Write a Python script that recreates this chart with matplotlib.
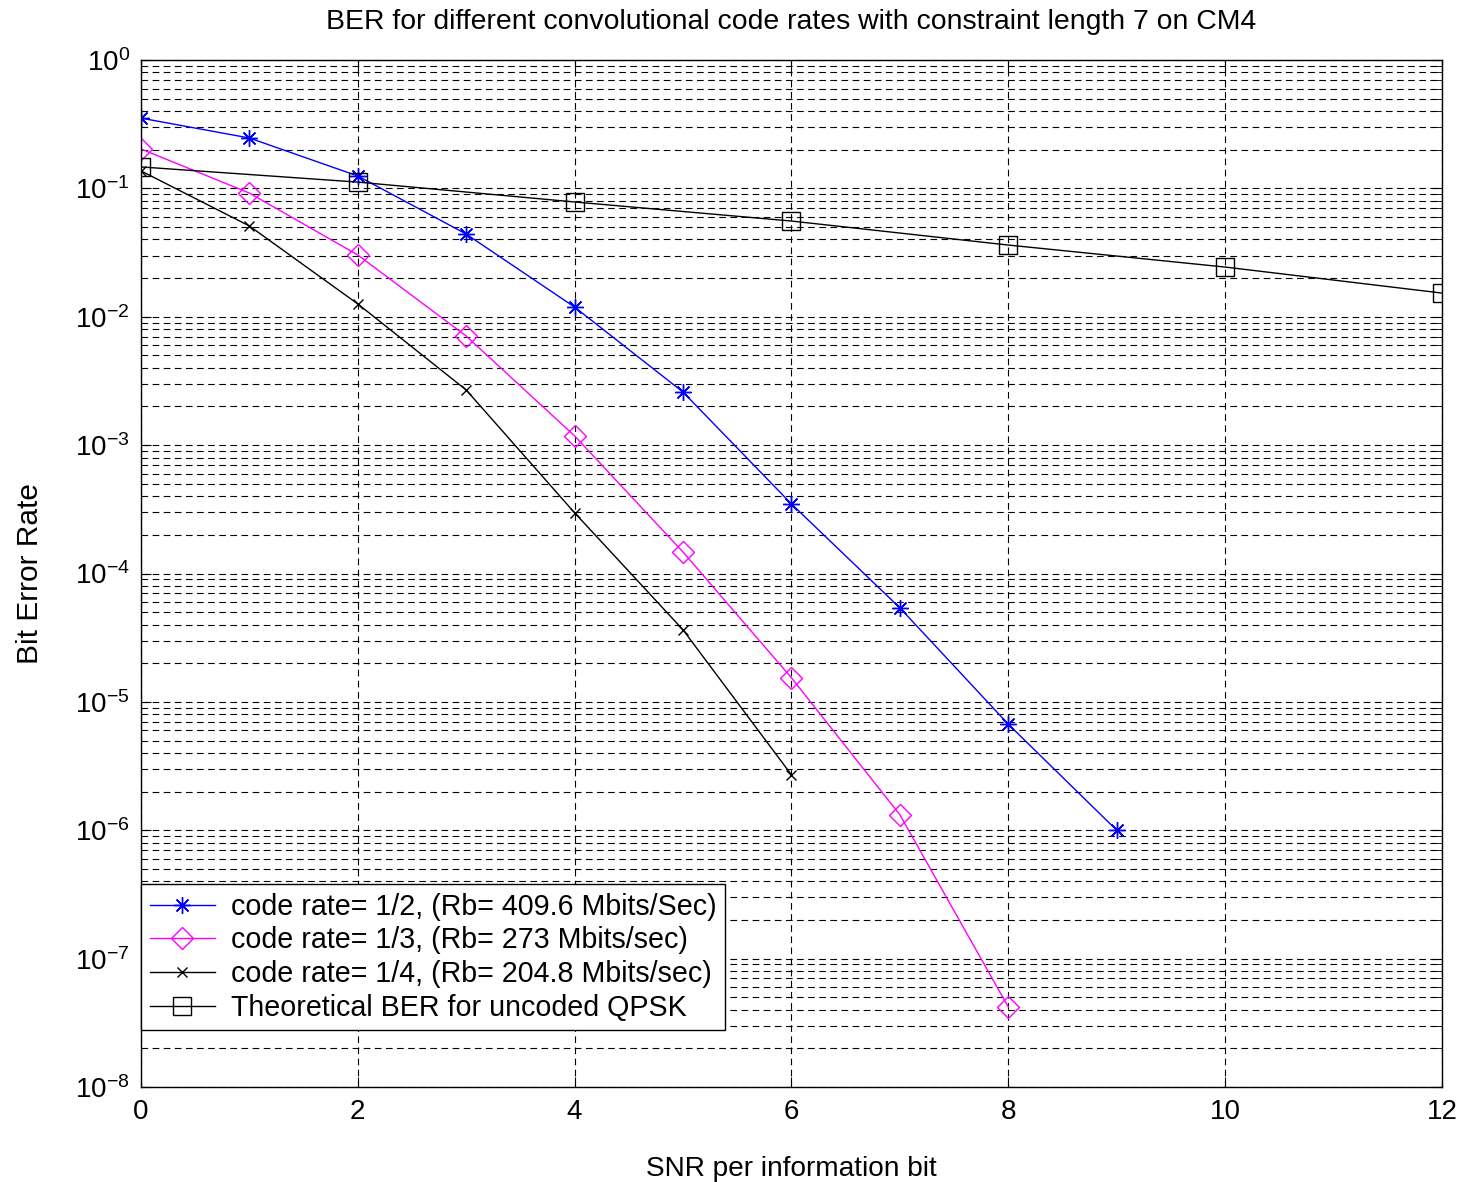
import matplotlib
matplotlib.use("Agg")
import matplotlib.pyplot as plt
from matplotlib.ticker import LogLocator, FixedLocator

plt.rcParams['font.family'] = ['Liberation Sans', 'DejaVu Sans']
plt.rcParams['mathtext.fontset'] = 'custom'
plt.rcParams['mathtext.rm'] = 'Liberation Sans'
plt.rcParams['mathtext.it'] = 'Liberation Sans'

snr_half = [0, 1, 2, 3, 4, 5, 6, 7, 8, 9]
ber_half = [0.353, 0.247, 0.125, 0.0441, 0.0119, 0.00259, 3.48e-4, 5.4e-5, 6.7e-6, 1.0e-6]

snr_third = [0, 1, 2, 3, 4, 5, 6, 7, 8]
ber_third = [0.203, 0.092, 0.0303, 0.00708, 0.00118, 1.47e-4, 1.54e-5, 1.32e-6, 4.2e-8]

snr_quarter = [0, 1, 2, 3, 4, 5, 6]
ber_quarter = [0.137, 0.051, 0.0126, 0.00269, 2.97e-4, 3.64e-5, 2.7e-6]

snr_theory = [0, 2, 4, 6, 8, 10, 12]
ber_theory = [0.147, 0.112, 0.0784, 0.0557, 0.0362, 0.0244, 0.0153]

x_ticks = [0, 2, 4, 6, 8, 10, 12]
y_ticks = [1e-8, 1e-7, 1e-6, 1e-5, 1e-4, 1e-3, 1e-2, 1e-1, 1e0]
y_tick_labels = [r'$10^{-8}$', r'$10^{-7}$', r'$10^{-6}$', r'$10^{-5}$', r'$10^{-4}$',
                 r'$10^{-3}$', r'$10^{-2}$', r'$10^{-1}$', r'$10^{0}$']

labels = ['code rate= 1/2, (Rb= 409.6 Mbits/Sec)',
          'code rate= 1/3, (Rb= 273 Mbits/sec)',
          'code rate= 1/4, (Rb= 204.8 Mbits/sec)',
          'Theoretical BER for uncoded QPSK']

fig = plt.figure(figsize=(14.62, 11.82), dpi=100)
ax = fig.add_axes([0.0964, 0.0804, 0.8899, 0.8688])

ax.semilogy(snr_half, ber_half, color='#0000ff', lw=1, marker=(8, 2, 0), ms=12, mew=1, label=labels[0])
ax.semilogy(snr_third, ber_third, color='#ff00ff', lw=1, marker='D', ms=11, mfc='none', mew=1, label=labels[1])
ax.semilogy(snr_quarter, ber_quarter, color='black', lw=1, marker='x', ms=7, mew=1, label=labels[2])
ax.semilogy(snr_theory, ber_theory, color='black', lw=1, marker='s', ms=13, mfc='none', mew=1, label=labels[3])

ax.set_xlim(0, 12)
ax.set_ylim(1e-8, 1)
ax.set_xticks(x_ticks)
ax.set_xticklabels([str(v) for v in x_ticks])
ax.set_yticks(y_ticks)
ax.set_yticklabels(y_tick_labels)
ax.yaxis.set_minor_locator(LogLocator(base=10, subs=range(2, 10), numticks=20))
ax.grid(True, which='major', ls=(0, (6, 4)), color='black', lw=0.8)
ax.grid(True, which='minor', axis='y', ls=(0, (6, 4)), color='black', lw=0.8)
ax.tick_params(which='both', direction='in', top=True, right=True, labelsize=20)
ax.tick_params(axis='x', which='major', pad=9)
ax.tick_params(axis='y', which='major', pad=8)
ax.tick_params(which='major', length=7)
ax.tick_params(which='minor', length=4)
for sp in ax.spines.values():
    sp.set_linewidth(1)

ax.set_title('BER for different convolutional code rates with constraint length 7 on CM4', fontsize=20.4, pad=22)
ax.set_xlabel('SNR per information bit', fontsize=20.2, labelpad=22)
ax.set_ylabel('Bit Error Rate', fontsize=21.5, labelpad=22)

leg = ax.legend(loc='lower left', bbox_to_anchor=(0.0, 0.055), fontsize=20.6, frameon=True,
                fancybox=False, edgecolor='black', framealpha=1, borderaxespad=0,
                handlelength=2.3, labelspacing=0.2, borderpad=0.3, handletextpad=0.55)
leg.get_frame().set_linewidth(1)

fig.savefig('out.png', dpi=100)
